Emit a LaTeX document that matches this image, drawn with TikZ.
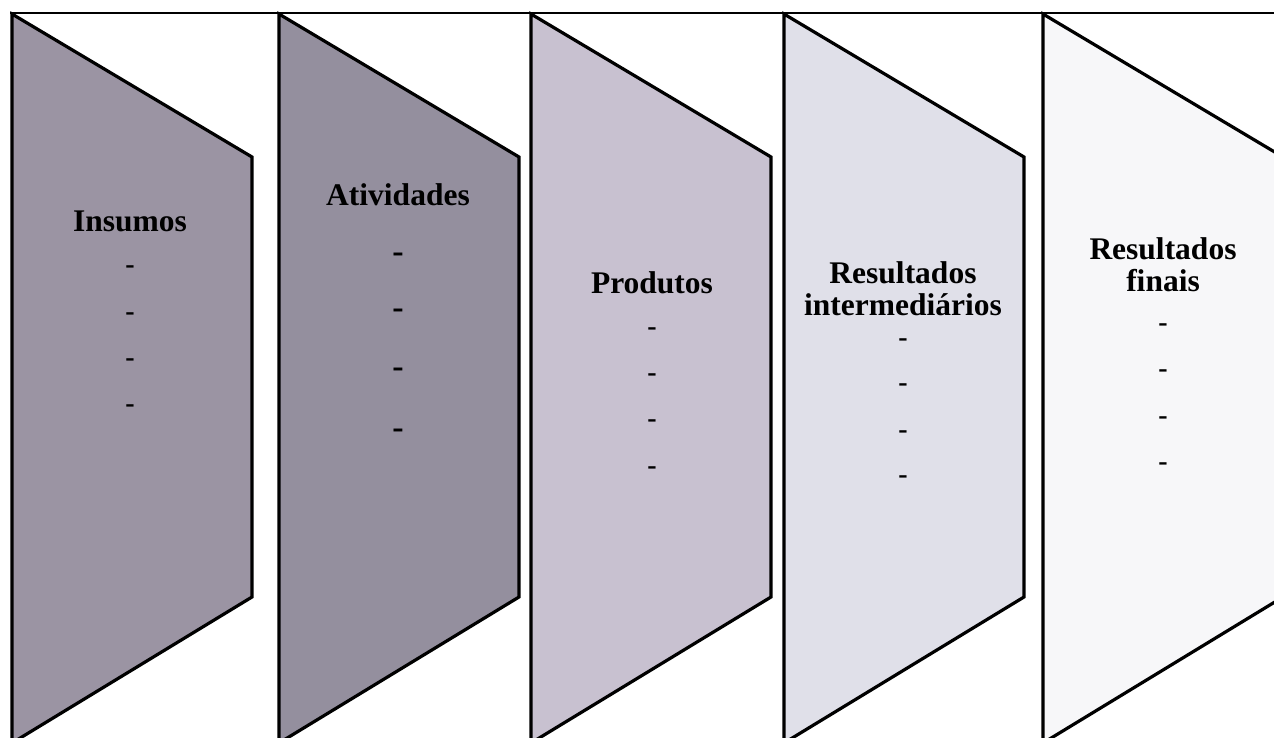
\documentclass[tikz,border=0pt]{standalone}
\usepackage{fontspec}
\setmainfont{Liberation Serif}
\definecolor{c1}{RGB}{155,148,163}
\definecolor{c2}{RGB}{148,143,158}
\definecolor{c3}{RGB}{200,193,208}
\definecolor{c4}{RGB}{224,224,233}
\definecolor{c5}{RGB}{247,247,249}
\begin{document}
\begin{tikzpicture}[x=1pt,y=-1pt,
  panel/.style={draw=black,line width=3.2pt,line join=miter},
  title/.style={font=\fontsize{31.5}{32}\selectfont\bfseries,anchor=base,inner sep=0pt},
  dashmark/.style={font=\fontsize{28}{28}\selectfont\bfseries,inner sep=0pt},
  bigdash/.style={font=\fontsize{34}{34}\selectfont\bfseries,inner sep=0pt}]
\useasboundingbox (0,0) rectangle (1274,738);
\clip (0,0) rectangle (1274,738);
\fill[white] (0,0) rectangle (1274,738);
\foreach \L/\c in {12/c1,279/c2,531/c3,784/c4,1043/c5}{
  \filldraw[panel,fill=\c] (\L,14) -- (\L+240,157) -- (\L+240,597) -- (\L,743) -- cycle;
}
\coordinate (tl) at (10,13);
\coordinate (tr) at (1280,13);
\draw[line width=2.8pt] (tl) -- (tr);
% Panel 1
\node[title] (t1) at (130,232) {Insumos};
\foreach \y [count=\i] in {270,317,363,409}{\node[dashmark] (d1\i) at (130,\y) {-};}
% Panel 2
\node[title] (t2) at (398,206) {Atividades};
\foreach \y [count=\i] in {258,314,373,434}{\node[bigdash] (d2\i) at (398,\y) {-};}
% Panel 3
\node[title] (t3) at (652,293) {Produtos};
\foreach \y [count=\i] in {332,378,424,471}{\node[dashmark] (d3\i) at (652,\y) {-};}
% Panel 4
\node[title] (t4a) at (903,283) {Resultados};
\node[title] (t4b) at (903,315) {intermediários};
\foreach \y [count=\i] in {343,388,435,480}{\node[dashmark] (d4\i) at (903,\y) {-};}
% Panel 5
\node[title] (t5a) at (1163,259) {Resultados};
\node[title] (t5b) at (1163,291) {finais};
\foreach \y [count=\i] in {328,374,421,467}{\node[dashmark] (d5\i) at (1163,\y) {-};}
\end{tikzpicture}
\end{document}
